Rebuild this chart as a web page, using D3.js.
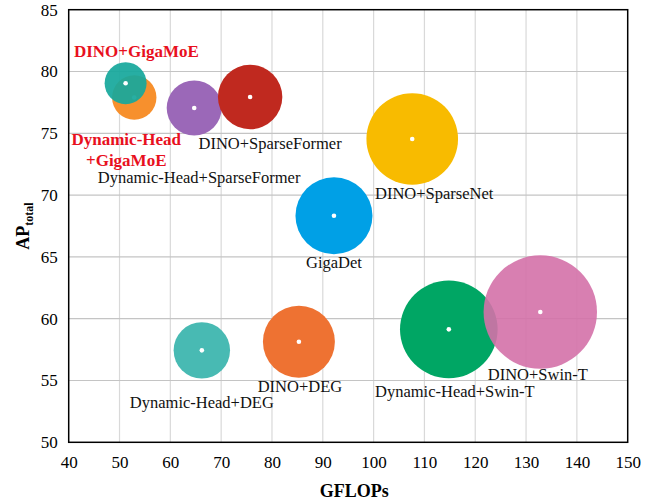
<!DOCTYPE html>
<html>
<head>
<meta charset="utf-8">
<script src="https://cdn.jsdelivr.net/npm/d3@7"></script>
<style>
  html, body { margin: 0; padding: 0; background: #fff; }
  svg { display: block; }
</style>
</head>
<body>
<svg id="chart" width="652" height="503"></svg>
<script>
// ---------------- data ----------------
const methods = [
  "Dynamic-Head+GigaMoE",
  "DINO+GigaMoE",
  "Dynamic-Head+SparseFormer",
  "DINO+SparseFormer",
  "GigaDet",
  "DINO+SparseNet",
  "Dynamic-Head+DEG",
  "DINO+DEG",
  "Dynamic-Head+Swin-T",
  "DINO+Swin-T"
];
const gflops  = [52.9, 51.2, 64.7, 75.7, 92.2, 107.6, 66.2, 85.3, 114.8, 132.8];
const apTotal = [77.9, 79.05, 77.05, 77.94, 68.33, 74.54, 57.44, 58.14, 59.14, 60.54];
const bubbleSize = [19.7, 17.6, 30.3, 41.5, 59.3, 83.9, 31.8, 51.8, 95.3, 128.6];
const xTicks = [40, 50, 60, 70, 80, 90, 100, 110, 120, 130, 140, 150];
const yTicks = [50, 55, 60, 65, 70, 75, 80, 85];
const highlighted = ["DINO+GigaMoE", "Dynamic-Head+GigaMoE"];

// ---------------- styles / layout ----------------
const colors = ["#f7902d", "#17a89c", "#9b68b8", "#c0291f", "#00a0e6",
                "#f8bb00", "#48bab3", "#ee7232", "#00a664", "#d471a8"];
const opac   = [1, 0.93, 1, 1, 1, 1, 1, 1, 1, 0.9];
// label offsets relative to bubble centre (px), anchor middle, baseline
const labelOff = [
  {dx: -8, dy: 47.5, lines: ["Dynamic-Head", "+GigaMoE"]},
  {dx: 10.8, dy: -26.3},
  {dx: 4.9, dy: 75.3},
  {dx: 20, dy: 52},
  {dx: 0, dy: 52.3},
  {dx: 22, dy: 60.3},
  {dx: 0, dy: 57.7},
  {dx: 1, dy: 50},
  {dx: 6, dy: 68},
  {dx: -2.5, dy: 68}
];
const FONT = "'Liberation Serif', 'Times New Roman', serif";
const margin = {left: 68.7, right: 652 - 627.7, top: 9.7, bottom: 503 - 442.3};
const W = 652, H = 503;

const svg = d3.select("#chart");
const x = d3.scaleLinear().domain([40, 150]).range([margin.left, W - margin.right]);
const y = d3.scaleLinear().domain([50, 85]).range([H - margin.bottom, margin.top]);
const r = d3.scaleSqrt().domain([0, d3.max(bubbleSize)]).range([0, 56.7]);

// gridlines
const grid = svg.append("g");
grid.selectAll("line.v").data(xTicks.slice(1, -1)).join("line")
  .attr("x1", d => x(d)).attr("x2", d => x(d))
  .attr("y1", y(50)).attr("y2", y(85))
  .attr("stroke", "#d9d9d9").attr("stroke-width", 1.2);
grid.selectAll("line.h").data(yTicks.slice(1, -1)).join("line")
  .attr("y1", d => y(d)).attr("y2", d => y(d))
  .attr("x1", x(40)).attr("x2", x(150))
  .attr("stroke", "#c4c4c4").attr("stroke-width", 1.2);

// bubbles
const data = methods.map((m, i) => ({m, gx: gflops[i], ap: apTotal[i], s: bubbleSize[i], i}));
const g = svg.append("g");
data.forEach(d => {
  g.append("circle")
    .attr("cx", x(d.gx)).attr("cy", y(d.ap)).attr("r", r(d.s))
    .attr("fill", colors[d.i]).attr("fill-opacity", opac[d.i]);
  g.append("circle")
    .attr("cx", x(d.gx)).attr("cy", y(d.ap)).attr("r", 2.3)
    .attr("fill", "#fff");
});

// frame
svg.append("rect")
  .attr("x", x(40)).attr("y", y(85))
  .attr("width", x(150) - x(40)).attr("height", y(50) - y(85))
  .attr("fill", "none").attr("stroke", "#000").attr("stroke-width", 1.5);

// axes (tick labels)
const xAxis = d3.axisBottom(x).tickValues(xTicks).tickSize(0).tickPadding(14);
svg.append("g").attr("transform", `translate(0,${y(50)})`).call(xAxis)
  .call(a => a.select(".domain").remove())
  .selectAll("text").attr("font-family", FONT).attr("font-size", 17).attr("fill", "#000");
const yAxis = d3.axisLeft(y).tickValues(yTicks).tickSize(0).tickPadding(11);
svg.append("g").attr("transform", `translate(${x(40)},0)`).call(yAxis)
  .call(a => a.select(".domain").remove())
  .selectAll("text").attr("font-family", FONT).attr("font-size", 17).attr("fill", "#000");

// labels
data.forEach(d => {
  const o = labelOff[d.i];
  const hl = highlighted.includes(d.m);
  const t = svg.append("text")
    .attr("x", x(d.gx) + o.dx).attr("y", y(d.ap) + o.dy)
    .attr("text-anchor", "middle")
    .attr("font-family", FONT)
    .attr("font-size", hl ? 17 : 16.5)
    .attr("font-weight", hl ? "bold" : "normal")
    .attr("fill", hl ? "#e8101e" : "#111");
  const lines = o.lines || [d.m];
  lines.forEach((ln, k) => {
    t.append("tspan").attr("x", x(d.gx) + o.dx).attr("dy", k === 0 ? 0 : 20.7).text(ln);
  });
});

// axis titles
svg.append("text")
  .attr("x", (x(40) + x(150)) / 2 + 6).attr("y", 497)
  .attr("text-anchor", "middle").attr("font-family", FONT)
  .attr("font-size", 18).attr("font-weight", "bold").text("GFLOPs");

const yt = svg.append("text")
  .attr("transform", `translate(29,${(y(50) + y(85)) / 2}) rotate(-90)`)
  .attr("text-anchor", "middle").attr("font-family", FONT)
  .attr("font-weight", "bold").attr("font-size", 18);
yt.append("tspan").text("AP");
yt.append("tspan").attr("font-size", 12).attr("dy", 4).text("total");
</script>
</body>
</html>
